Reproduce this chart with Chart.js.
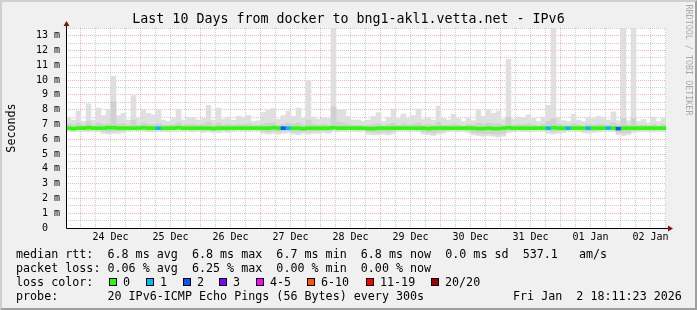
<!DOCTYPE html>
<html>
<head>
<meta charset="utf-8">
<script src="https://cdn.jsdelivr.net/npm/chart.js@4.4.1/dist/chart.umd.min.js"></script>
<style>
  body { margin: 0; background: #f0f0f0; }
  #graph { position: relative; width: 697px; height: 310px; background: #f0f0f0; overflow: hidden;
           font-family: 'DejaVu Sans Mono', monospace; color: #000; }
  #graph canvas { position: absolute; left: 0; top: 0; }
  .frame { position: absolute; left: 0; top: 0; width: 697px; height: 310px; box-sizing: border-box;
           border-top: 2px solid #cfcfcf; border-left: 2px solid #cfcfcf;
           border-right: 2px solid #9e9e9e; border-bottom: 2px solid #9e9e9e; }
  .txt { position: absolute; white-space: pre; font-size: 11.7px; line-height: 14px; }
  .title { position: absolute; left: 0; top: 11px; width: 697px; text-align: center; white-space: pre;
           font-size: 13.3px; line-height: 16px; }
  .ytitle { position: absolute; left: 11px; top: 128px; white-space: pre; font-size: 11.7px; line-height: 14px;
            transform: translate(-50%, -50%) rotate(-90deg); }
  .mark { position: absolute; left: 689px; top: 60px; white-space: pre; font-size: 8.4px; line-height: 10px;
          color: #a8a8a8; transform: translate(-50%, -50%) rotate(90deg); }
  .box { position: absolute; width: 8px; height: 8px; box-sizing: border-box; border: 1px solid #000; top: 278px; }
</style>
</head>
<body>
<div id="graph">
  <canvas id="c" width="697" height="310"></canvas>
  <div class="frame"></div>
  <div class="title">Last 10 Days from docker to bng1-akl1.vetta.net - IPv6</div>
  <div class="ytitle">Seconds</div>
  <div class="mark">RRDTOOL / TOBI OETIKER</div>
  <div class="txt" style="left:16px;top:247px">median rtt:  6.8 ms avg  6.8 ms max  6.7 ms min  6.8 ms now  0.0 ms sd  537.1   am/s</div>
  <div class="txt" style="left:16px;top:261px">packet loss: 0.06 % avg  6.25 % max  0.00 % min  0.00 % now</div>
  <div class="txt" style="left:16px;top:275px">loss color:</div>
  <div id="lossLegend"></div>
  <div class="txt" style="left:16px;top:289px">probe:       20 IPv6-ICMP Echo Pings (56 Bytes) every 300s</div>
  <div class="txt" style="left:513px;top:289px">Fri Jan  2 18:11:23 2026</div>
</div>
<script>
// x axis in hours since 23 Dec 00:00, plot spans 23 Dec 18:11 -> 02 Jan 18:11
const dayLabels = ['24 Dec', '25 Dec', '26 Dec', '27 Dec', '28 Dec', '29 Dec', '30 Dec', '31 Dec', '01 Jan', '02 Jan'];
const startHour = 18.19;
const endHour = 258.19;
const stepHours = 2;

// top of the smoke (ms), one value per 2 h column
const smokeHigh = [
  7.5, 7.3, 7.9, 7.2, 8.4, 7.3, 8.1, 7.6, 8.0, 10.25,
  7.6, 7.75, 7.3, 8.95, 7.4, 8.0, 7.75, 7.65, 8.0, 7.3,
  7.2, 7.4, 8.0, 7.3, 7.5, 7.45, 7.3, 7.4, 8.3, 7.3,
  8.1, 7.35, 7.5, 7.3, 7.55, 7.5, 7.6, 7.2, 7.25, 7.8,
  8.0, 8.1, 7.35, 7.6, 7.9, 7.55, 8.1, 7.4, 10.0, 7.5,
  7.35, 7.45, 7.4, 13.6, 8.0, 8.0, 7.55, 7.3, 7.3, 7.2,
  7.3, 7.55, 7.8, 7.2, 7.5, 8.05, 7.4, 7.7, 7.4, 7.6,
  8.05, 7.35, 7.45, 7.3, 8.25, 7.4, 7.3, 7.7, 7.4, 7.2,
  7.45, 7.25, 8.0, 7.55, 8.0, 7.75, 7.9, 7.35, 11.4, 7.35,
  7.5, 7.45, 7.65, 7.4, 7.2, 7.5, 8.3, 13.6, 7.5, 7.25,
  7.2, 7.7, 7.3, 7.2, 7.5, 7.4, 7.55, 7.45, 7.3, 7.85,
  7.25, 13.6, 7.25, 13.6, 7.2, 7.35, 7.1, 7.5, 7.2, 7.45
];
// bottom of the smoke
const smokeLow = [
  6.55, 6.5, 6.55, 6.55, 6.5, 6.55, 6.5, 6.4, 6.35, 6.4,
  6.4, 6.45, 6.55, 6.6, 6.55, 6.55, 6.5, 6.5, 6.55, 6.5,
  6.5, 6.55, 6.6, 6.55, 6.55, 6.5, 6.55, 6.45, 6.5, 6.45,
  6.45, 6.5, 6.45, 6.55, 6.6, 6.55, 6.55, 6.6, 6.55, 6.4,
  6.35, 6.4, 6.35, 6.4, 6.45, 6.35, 6.3, 6.4, 6.35, 6.4,
  6.4, 6.45, 6.4, 6.55, 6.5, 6.55, 6.6, 6.55, 6.5, 6.55,
  6.35, 6.3, 6.3, 6.35, 6.3, 6.4, 6.55, 6.6, 6.55, 6.55,
  6.5, 6.35, 6.3, 6.25, 6.35, 6.4, 6.5, 6.55, 6.5, 6.55,
  6.45, 6.3, 6.25, 6.2, 6.25, 6.2, 6.15, 6.2, 6.45, 6.5,
  6.55, 6.5, 6.5, 6.55, 6.6, 6.55, 6.4, 6.35, 6.4, 6.45,
  6.55, 6.6, 6.55, 6.45, 6.4, 6.45, 6.5, 6.55, 6.6, 6.55,
  6.3, 6.25, 6.3, 6.45, 6.5, 6.55, 6.5, 6.5, 6.55, 6.5
];
// denser part of the smoke around the median
const innerHigh = [
  7.05, 6.95, 7.1, 6.95, 7.2, 6.95, 7.1, 7.0, 7.05, 8.55,
  7.0, 7.05, 6.95, 7.3, 6.95, 7.1, 7.0, 7.0, 7.05, 6.95,
  6.95, 7.0, 7.1, 6.95, 7.0, 7.0, 6.95, 7.0, 7.15, 6.95,
  7.1, 6.95, 7.0, 6.95, 7.0, 7.0, 7.05, 6.95, 6.95, 7.05,
  7.1, 7.1, 6.95, 7.0, 7.1, 7.0, 7.1, 6.95, 7.3, 7.0,
  6.95, 7.0, 6.95, 8.2, 7.15, 7.1, 7.0, 6.95, 6.95, 6.9,
  6.95, 7.0, 7.05, 6.9, 7.0, 7.1, 6.95, 7.05, 6.95, 7.0,
  7.1, 6.95, 7.0, 6.95, 7.15, 6.95, 6.95, 7.05, 6.95, 6.9,
  7.0, 6.95, 7.1, 7.0, 7.1, 7.05, 7.05, 6.95, 7.5, 6.95,
  7.0, 7.0, 7.05, 6.95, 6.9, 7.0, 7.2, 7.4, 7.0, 6.95,
  6.9, 7.05, 6.95, 6.9, 7.0, 6.95, 7.0, 7.0, 6.95, 7.1,
  6.95, 7.4, 6.95, 7.4, 6.9, 6.95, 6.9, 7.0, 6.9, 7.0
];
const innerLow = [
  6.65, 6.62, 6.65, 6.65, 6.62, 6.65, 6.62, 6.55, 6.5, 6.55,
  6.55, 6.6, 6.65, 6.68, 6.65, 6.65, 6.62, 6.62, 6.65, 6.62,
  6.62, 6.65, 6.68, 6.65, 6.65, 6.62, 6.65, 6.6, 6.62, 6.6,
  6.6, 6.62, 6.6, 6.65, 6.68, 6.65, 6.65, 6.68, 6.65, 6.55,
  6.5, 6.55, 6.5, 6.55, 6.58, 6.5, 6.48, 6.55, 6.5, 6.55,
  6.55, 6.58, 6.55, 6.65, 6.62, 6.65, 6.68, 6.65, 6.62, 6.65,
  6.5, 6.48, 6.45, 6.5, 6.48, 6.55, 6.65, 6.68, 6.65, 6.65,
  6.62, 6.5, 6.45, 6.42, 6.5, 6.55, 6.62, 6.65, 6.62, 6.65,
  6.6, 6.45, 6.4, 6.38, 6.4, 6.38, 6.35, 6.4, 6.6, 6.62,
  6.65, 6.62, 6.62, 6.65, 6.68, 6.65, 6.55, 6.5, 6.55, 6.6,
  6.65, 6.68, 6.65, 6.6, 6.55, 6.6, 6.62, 6.65, 6.68, 6.65,
  6.45, 6.42, 6.45, 6.6, 6.62, 6.65, 6.62, 6.62, 6.65, 6.62
];
// median rtt
const median = [
  6.75, 6.72, 6.75, 6.75, 6.78, 6.75, 6.75, 6.75, 6.78, 6.78,
  6.75, 6.75, 6.75, 6.75, 6.75, 6.78, 6.75, 6.75, 6.75, 6.75,
  6.75, 6.75, 6.78, 6.75, 6.75, 6.75, 6.75, 6.75, 6.75, 6.72,
  6.75, 6.75, 6.75, 6.75, 6.75, 6.75, 6.75, 6.75, 6.75, 6.75,
  6.75, 6.78, 6.75, 6.75, 6.75, 6.75, 6.75, 6.72, 6.75, 6.75,
  6.75, 6.75, 6.75, 6.78, 6.75, 6.75, 6.75, 6.75, 6.75, 6.75,
  6.72, 6.72, 6.75, 6.75, 6.75, 6.75, 6.75, 6.75, 6.75, 6.75,
  6.75, 6.75, 6.72, 6.75, 6.75, 6.75, 6.75, 6.75, 6.75, 6.75,
  6.75, 6.75, 6.72, 6.72, 6.75, 6.72, 6.72, 6.75, 6.78, 6.75,
  6.75, 6.75, 6.75, 6.75, 6.75, 6.75, 6.75, 6.78, 6.75, 6.75,
  6.75, 6.75, 6.75, 6.75, 6.75, 6.75, 6.75, 6.75, 6.75, 6.75,
  6.72, 6.75, 6.75, 6.75, 6.75, 6.75, 6.75, 6.75, 6.75, 6.75
];
// lost pings per column (index into lossColors)
const loss = [
  0, 0, 0, 0, 0, 0, 0, 0, 0, 0,
  0, 0, 0, 0, 0, 0, 0, 0, 1, 0,
  0, 0, 0, 0, 0, 0, 0, 0, 0, 0,
  0, 0, 0, 0, 0, 0, 0, 0, 0, 0,
  0, 0, 0, 2, 1, 0, 0, 0, 0, 0,
  0, 0, 0, 0, 0, 0, 0, 0, 0, 0,
  0, 0, 0, 0, 0, 0, 0, 0, 0, 0,
  0, 0, 0, 0, 0, 0, 0, 0, 0, 0,
  0, 0, 0, 0, 0, 0, 0, 0, 0, 0,
  0, 0, 0, 0, 0, 0, 1, 0, 0, 0,
  1, 0, 0, 0, 1, 0, 0, 0, 1, 0,
  2, 0, 0, 0, 0, 0, 0, 0, 0, 0
];
const lossLabels = ['0', '1', '2', '3', '4-5', '6-10', '11-19', '20/20'];
const lossColors = ['#26ff00', '#00b8ff', '#0059ff', '#7e00ff', '#ff00ff', '#ff5500', '#ff0000', '#a00000'];

// loss colour legend
const boxLeft = [109, 146, 183, 219, 256, 307, 366, 431];
const legend = document.getElementById('lossLegend');
lossLabels.forEach(function (lab, i) {
    const b = document.createElement('div');
    b.className = 'box';
    b.style.left = boxLeft[i] + 'px';
    b.style.background = lossColors[i];
    legend.appendChild(b);
    const t = document.createElement('div');
    t.className = 'txt';
    t.style.left = (boxLeft[i] + 14) + 'px';
    t.style.top = '275px';
    t.textContent = lab;
    legend.appendChild(t);
});

const times = smokeHigh.map((v, i) => startHour + stepHours * (i + 0.5));
const outerBars = times.map((t, i) => ({ x: t, y: [smokeLow[i], smokeHigh[i]] }));
const innerBars = times.map((t, i) => ({ x: t, y: [innerLow[i], innerHigh[i]] }));
const medianBars = times.map((t, i) => ({ x: t, y: [median[i] - 0.1, median[i] + 0.1] }));

const gridHours = [];
for (let h = 24; h <= endHour; h += 6) gridHours.push(h);
const gridMs = [];
for (let v = 0; v <= 13.5; v += 0.5) gridMs.push(v);

const majorGrid = 'rgba(255, 0, 0, 0.3)';
const minorGrid = 'rgba(120, 120, 120, 0.38)';
const axisFont = { family: 'DejaVu Sans Mono', size: 10 };

const plotDecor = {
    id: 'plotDecor',
    beforeDraw(chart) {
        const { ctx, chartArea: a } = chart;
        ctx.save();
        ctx.fillStyle = '#ffffff';
        ctx.fillRect(a.left, a.top, a.right - a.left, a.bottom - a.top);
        ctx.restore();
    },
    afterDraw(chart) {
        const { ctx, chartArea: a } = chart;
        const x0 = a.left + 0.5, y0 = a.bottom + 0.5;
        ctx.save();
        ctx.strokeStyle = '#000000';
        ctx.lineWidth = 1;
        ctx.beginPath();
        ctx.moveTo(x0, a.top - 3);
        ctx.lineTo(x0, y0);
        ctx.lineTo(a.right + 3, y0);
        ctx.stroke();
        ctx.fillStyle = '#7f1515';
        ctx.beginPath();
        ctx.moveTo(x0 - 3, a.top - 2);
        ctx.lineTo(x0 + 3, a.top - 2);
        ctx.lineTo(x0, a.top - 7);
        ctx.closePath();
        ctx.fill();
        ctx.beginPath();
        ctx.moveTo(a.right + 2, y0 - 3);
        ctx.lineTo(a.right + 2, y0 + 3);
        ctx.lineTo(a.right + 7, y0);
        ctx.closePath();
        ctx.fill();
        ctx.restore();
    }
};

const barOpts = { grouped: false, barPercentage: 1, categoryPercentage: 1, borderWidth: 0 };

new Chart(document.getElementById('c'), {
    type: 'bar',
    data: {
        datasets: [
            Object.assign({ data: medianBars, backgroundColor: loss.map(l => lossColors[l]), order: 0 }, barOpts),
            Object.assign({ data: innerBars, backgroundColor: '#d0d0d0', order: 1 }, barOpts),
            Object.assign({ data: outerBars, backgroundColor: '#dfdfdf', order: 2 }, barOpts)
        ]
    },
    options: {
        responsive: false,
        animation: false,
        layout: { padding: { left: 0, right: 31, top: 28, bottom: 0 } },
        plugins: { legend: { display: false }, tooltip: { enabled: false } },
        scales: {
            x: {
                type: 'linear', min: startHour, max: endHour, offset: false, z: 1,
                afterBuildTicks: s => { s.ticks = gridHours.map(v => ({ value: v })); },
                afterFit: s => { s.height = 82; },
                grid: { offset: false, drawTicks: false, lineWidth: 1,
                        color: c => (c.tick && c.tick.value % 24 === 0) ? majorGrid : minorGrid },
                border: { display: false, dash: [1, 1] },
                ticks: { autoSkip: false, maxRotation: 0, padding: 3, color: '#000', font: axisFont,
                         callback: v => v % 24 === 12 ? dayLabels[(v - 36) / 24] : '' }
            },
            y: {
                min: 0, max: 13.52, z: 1,
                afterBuildTicks: s => { s.ticks = gridMs.map(v => ({ value: v })); },
                afterFit: s => { s.width = 66; },
                grid: { drawTicks: false, lineWidth: 1,
                        color: c => (c.tick && Number.isInteger(c.tick.value)) ? majorGrid : minorGrid },
                border: { display: false, dash: [1, 1] },
                ticks: { autoSkip: false, padding: 6, color: '#000', font: axisFont,
                         callback: v => Number.isInteger(v) ? (v === 0 ? '0  ' : v + ' m') : '' }
            }
        }
    },
    plugins: [plotDecor]
});
</script>
</body>
</html>
